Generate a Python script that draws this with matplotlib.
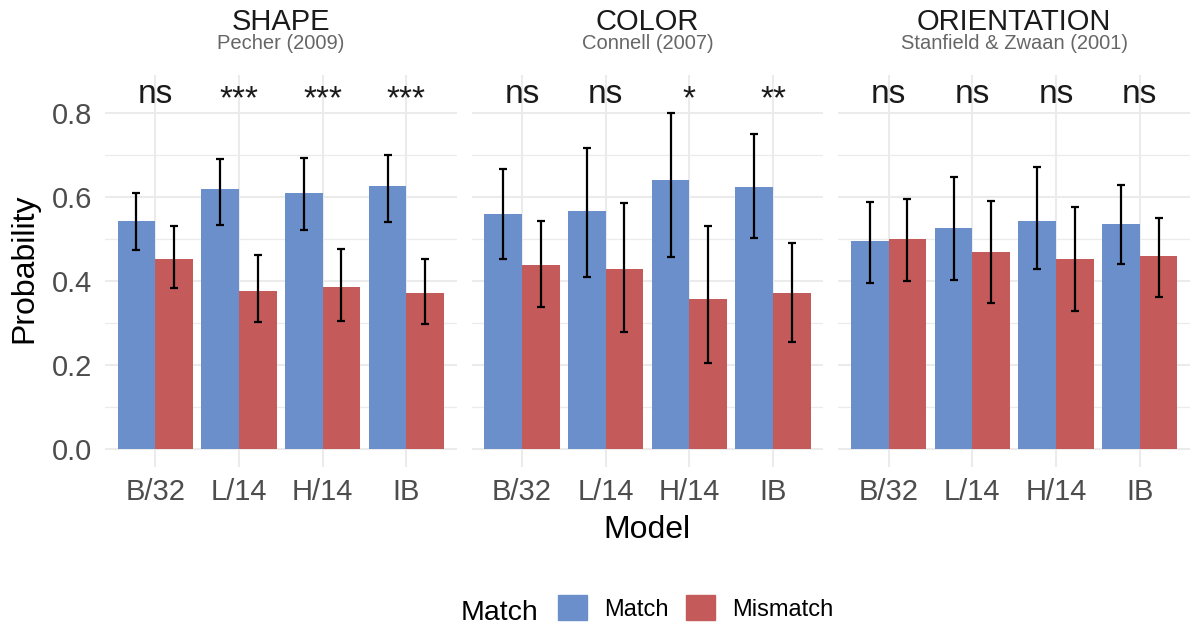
import matplotlib
matplotlib.use("Agg")
import matplotlib.pyplot as plt
import matplotlib.patches as mpatches
import matplotlib.transforms as mtransforms
import numpy as np

plt.rcParams['font.family'] = ['Liberation Sans', 'DejaVu Sans']

# --------------------------------------------------
# Data
# --------------------------------------------------
models = ['B/32', 'L/14', 'H/14', 'IB']
panels = ['SHAPE', 'COLOR', 'ORIENTATION']
studies = ['Pecher (2009)', 'Connell (2007)', 'Stanfield & Zwaan (2001)']

shape_match = [0.544, 0.620, 0.610, 0.626]
shape_match_lo = [0.475, 0.535, 0.522, 0.542]
shape_match_hi = [0.610, 0.692, 0.693, 0.701]
shape_mis = [0.452, 0.377, 0.386, 0.371]
shape_mis_lo = [0.384, 0.304, 0.305, 0.298]
shape_mis_hi = [0.532, 0.463, 0.476, 0.452]
shape_sig = ['ns', '***', '***', '***']

color_match = [0.559, 0.568, 0.640, 0.625]
color_match_lo = [0.453, 0.410, 0.459, 0.503]
color_match_hi = [0.667, 0.717, 0.801, 0.751]
color_mis = [0.438, 0.429, 0.358, 0.372]
color_mis_lo = [0.340, 0.280, 0.206, 0.256]
color_mis_hi = [0.543, 0.587, 0.532, 0.491]
color_sig = ['ns', 'ns', '*', '**']

orient_match = [0.497, 0.528, 0.544, 0.537]
orient_match_lo = [0.397, 0.404, 0.429, 0.441]
orient_match_hi = [0.588, 0.648, 0.673, 0.629]
orient_mis = [0.500, 0.470, 0.453, 0.460]
orient_mis_lo = [0.401, 0.348, 0.330, 0.363]
orient_mis_hi = [0.595, 0.592, 0.578, 0.550]
orient_sig = ['ns', 'ns', 'ns', 'ns']

panel_data = [
    (shape_match, shape_match_lo, shape_match_hi, shape_mis, shape_mis_lo, shape_mis_hi, shape_sig),
    (color_match, color_match_lo, color_match_hi, color_mis, color_mis_lo, color_mis_hi, color_sig),
    (orient_match, orient_match_lo, orient_match_hi, orient_mis, orient_mis_lo, orient_mis_hi, orient_sig),
]

# --------------------------------------------------
# Style
# --------------------------------------------------
col_match = '#6B8FCA'
col_mis = '#C45A5A'
grid_col = '#EBEBEB'
bar_w = 0.45
label_y = 0.825

fig, axes = plt.subplots(1, 3, figsize=(11.92, 6.26), dpi=100, sharey=True)
fig.subplots_adjust(left=105 / 1192, right=1190 / 1192, top=1 - 75 / 626,
                    bottom=1 - 467 / 626, wspace=0.043)

x = np.arange(1, len(models) + 1)

for i, ax in enumerate(axes):
    m, m_lo, m_hi, mm, mm_lo, mm_hi, sig = panel_data[i]
    m = np.array(m); mm = np.array(mm)
    ax.bar(x - bar_w / 2, m, width=bar_w, color=col_match, zorder=2)
    ax.bar(x + bar_w / 2, mm, width=bar_w, color=col_mis, zorder=2)
    ax.errorbar(x - bar_w / 2, m, yerr=[m - np.array(m_lo), np.array(m_hi) - m],
                fmt='none', ecolor='black', elinewidth=1.6, capsize=3, capthick=1.6, zorder=3)
    ax.errorbar(x + bar_w / 2, mm, yerr=[mm - np.array(mm_lo), np.array(mm_hi) - mm],
                fmt='none', ecolor='black', elinewidth=1.6, capsize=3, capthick=1.6, zorder=3)

    # significance labels (asterisks nudged so their ink centre lines up with "ns")
    star_shift = mtransforms.offset_copy(ax.transData, fig=fig, x=0, y=-4, units='points')
    for xi, s in zip(x, sig):
        tr = ax.transData if s == 'ns' else star_shift
        ax.text(xi, label_y, s, ha='center', va='baseline', fontsize=24,
                color='#1A1A1A', transform=tr, zorder=4)

    ax.set_xlim(0.4, 4.6)
    ax.set_ylim(-0.042, 0.891)
    ax.set_xticks(x)
    ax.set_xticklabels(models)
    ax.set_yticks([0.0, 0.2, 0.4, 0.6, 0.8])
    ax.set_yticks([0.1, 0.3, 0.5, 0.7], minor=True)
    ax.yaxis.set_major_formatter(matplotlib.ticker.FormatStrFormatter('%.1f'))
    ax.tick_params(axis='both', which='both', length=0, labelsize=21, colors='#4D4D4D')
    ax.tick_params(axis='x', pad=8)
    ax.tick_params(axis='y', pad=9)
    ax.grid(which='major', color=grid_col, linewidth=1.5, zorder=0)
    ax.grid(which='minor', axis='y', color=grid_col, linewidth=0.9, zorder=0)
    ax.set_axisbelow(True)
    for sp in ax.spines.values():
        sp.set_visible(False)

    # facet strip
    tr = mtransforms.blended_transform_factory(ax.transAxes, fig.transFigure)
    ax.text(0.5, 1 - 29.5 / 626, panels[i], ha='center', va='baseline',
            fontsize=21, color='#1A1A1A', transform=tr)
    ax.text(0.5, 1 - 49 / 626, studies[i], ha='center', va='baseline',
            fontsize=14.5, color='#666666', transform=tr)

# axis titles
fig.text(24 / 1192, 1 - 268 / 626, 'Probability', rotation=90, ha='center', va='center',
         fontsize=23, color='black')
fig.text(647 / 1192, 1 - 530 / 626, 'Model', ha='center', va='center',
         fontsize=23, color='black')

# legend
fig.text(461 / 1192, 1 - 620 / 626, 'Match', ha='left', va='baseline',
         fontsize=20.5, color='black')
handles = [mpatches.Patch(color=col_match, label='Match'),
           mpatches.Patch(color=col_mis, label='Mismatch')]
fig.legend(handles=handles, loc='center', bbox_to_anchor=(695.5 / 1192, 1 - 608 / 626),
           ncol=2, frameon=False, fontsize=17, handlelength=1.23, handleheight=1.23,
           handletextpad=0.72, columnspacing=0.76, borderpad=0, borderaxespad=0)

plt.savefig('out.png', dpi=100)
